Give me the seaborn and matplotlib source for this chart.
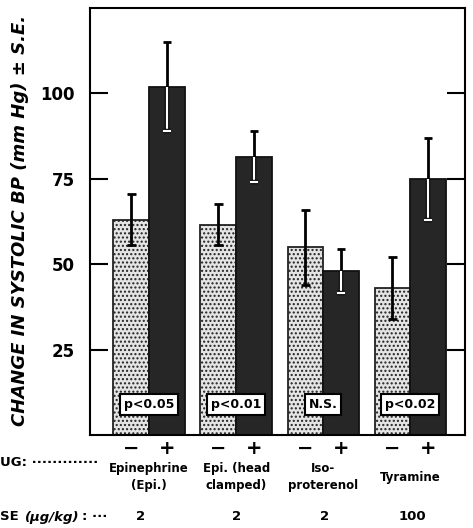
import matplotlib
matplotlib.use("Agg")
import matplotlib.pyplot as plt
import matplotlib.patheffects as pe
import seaborn as sns
import pandas as pd
import numpy as np

# ---- data ----
drugs = ["Epinephrine\n(Epi.)", "Epi. (head\nclamped)", "Iso-\nproterenol", "Tyramine"]
doses = ["2", "2", "2", "100"]
groups = ["\u2212", "+"]
mean_minus = [63, 61.5, 55, 43]
se_minus = [7.5, 6, 11, 9]
mean_plus = [102, 81.5, 48, 75]
se_plus = [13, 7.5, 6.5, 12]
pvals = ["p<0.05", "p<0.01", "N.S.", "p<0.02"]
yticks = [25, 50, 75, 100]

df = pd.DataFrame({
    "drug": drugs * 2,
    "group": [groups[0]] * 4 + [groups[1]] * 4,
    "value": mean_minus + mean_plus,
    "se": se_minus + se_plus,
})

sns.set_theme(style="white")
plt.rcParams["font.family"] = ["DejaVu Sans"]
plt.rcParams["hatch.linewidth"] = 1.0
plt.rcParams["text.color"] = "black"
plt.rcParams["axes.labelcolor"] = "black"
plt.rcParams["xtick.color"] = "black"
plt.rcParams["ytick.color"] = "black"

fig = plt.figure(figsize=(4.73, 5.28), dpi=100)
ax = fig.add_axes([90 / 473, 1 - 435 / 528, 375 / 473, 427 / 528])

sns.barplot(data=df, x="drug", y="value", hue="group", order=drugs,
            hue_order=groups, palette=["#e4e4e4", "#262626"], width=0.82,
            errorbar=None, legend=False, ax=ax, saturation=1,
            edgecolor="black", linewidth=1.3)

bars = [p for p in ax.patches]
n = len(drugs)
centers = []
for i, p in enumerate(bars):
    if i < n:
        p.set_hatch("....")
        p.set_edgecolor("#222222")
    else:
        p.set_edgecolor("#111111")
    p.set_zorder(2)

# error bars
cap = 0.05
for i, p in enumerate(bars):
    x = p.get_x() + p.get_width() / 2
    centers.append(x)
    g = i // n
    j = i % n
    m = df.loc[(df.group == groups[g]) & (df.drug == drugs[j]), "value"].values[0]
    s = df.loc[(df.group == groups[g]) & (df.drug == drugs[j]), "se"].values[0]
    ax.vlines(x, m, m + s, color="black", lw=2, zorder=4)
    ax.hlines(m + s, x - cap, x + cap, color="black", lw=2, zorder=4)
    if g == 0:
        ax.vlines(x, m - s, m, color="black", lw=2, zorder=4)
        ax.hlines(m - s, x - cap, x + cap, color="black", lw=2, zorder=4)
    else:
        eff = [pe.Stroke(linewidth=3.2, foreground="black"), pe.Normal()]
        ax.vlines(x, m - s, m, color="white", lw=1.6, zorder=4, path_effects=eff)
        ax.hlines(m - s, x - cap, x + cap, color="white", lw=1.6, zorder=4, path_effects=eff)

# p-value boxes
for j, t in enumerate(pvals):
    ax.text(j, 8.9, t, ha="center", va="center", fontsize=9, fontweight="bold",
            zorder=5, color="black",
            bbox=dict(boxstyle="square,pad=0.3", fc="white", ec="black", lw=1.5))

ax.set_xlim(-0.68, 3.63)
ax.set_ylim(0, 125)
ax.set_yticks(yticks)
ax.set_yticklabels([str(v) for v in yticks], fontsize=12, fontweight="bold")
ax.tick_params(axis="y", direction="in", length=13, width=1.5, left=True, right=True,
               pad=11, colors="black")

xs = sorted(centers)
ax.set_xticks(xs)
ax.set_xticklabels([groups[0], groups[1]] * n, fontsize=14, fontweight="bold")
ax.tick_params(axis="x", length=0, pad=3, colors="black")
ax.set_xlabel("")

for sp in ax.spines.values():
    sp.set_color("black")
    sp.set_linewidth(1.5)
    sp.set_visible(True)

ax.set_ylabel("CHANGE IN SYSTOLIC BP (mm Hg) \u00b1 S.E.", fontsize=13,
              fontweight="bold", fontstyle="italic", color="black")
ax.yaxis.set_label_coords(-0.163, 0.503)

def fy(px):
    return (435 - px) / 427

trans = ax.get_xaxis_transform()
dose_x = [-0.1, 0, 0.02, 0.03]
for j, d in enumerate(drugs):
    ax.text(j, fy(477), d, transform=trans, ha="center", va="center",
            fontsize=8.5, fontweight="bold", linespacing=1.4, color="black")
    ax.text(j + dose_x[j], fy(517), doses[j], transform=trans, ha="center", va="center",
            fontsize=9.5, fontweight="bold", color="black")

fig.text(0.0, 1 - 462 / 528,
         "UG: \u00b7\u00b7\u00b7\u00b7\u00b7\u00b7\u00b7\u00b7\u00b7\u00b7\u00b7\u00b7\u00b7",
         ha="left", va="center", fontsize=9.5, fontweight="bold", color="black")

# dose row label pieces placed one after another
renderer = fig.canvas.get_renderer()
ydose = 1 - 517 / 528
pieces = [("SE ", "normal"), ("(\u03bcg/kg)", "italic"), (": \u00b7\u00b7\u00b7", "normal")]
xcur = 0.0
for txt, style in pieces:
    t = fig.text(xcur, ydose, txt, ha="left", va="center", fontsize=9.5,
                 fontweight="bold", fontstyle=style, color="black")
    bb = t.get_window_extent(renderer=renderer)
    xcur += bb.width / fig.bbox.width + 2 / 473

fig.savefig("out.png", dpi=100)
